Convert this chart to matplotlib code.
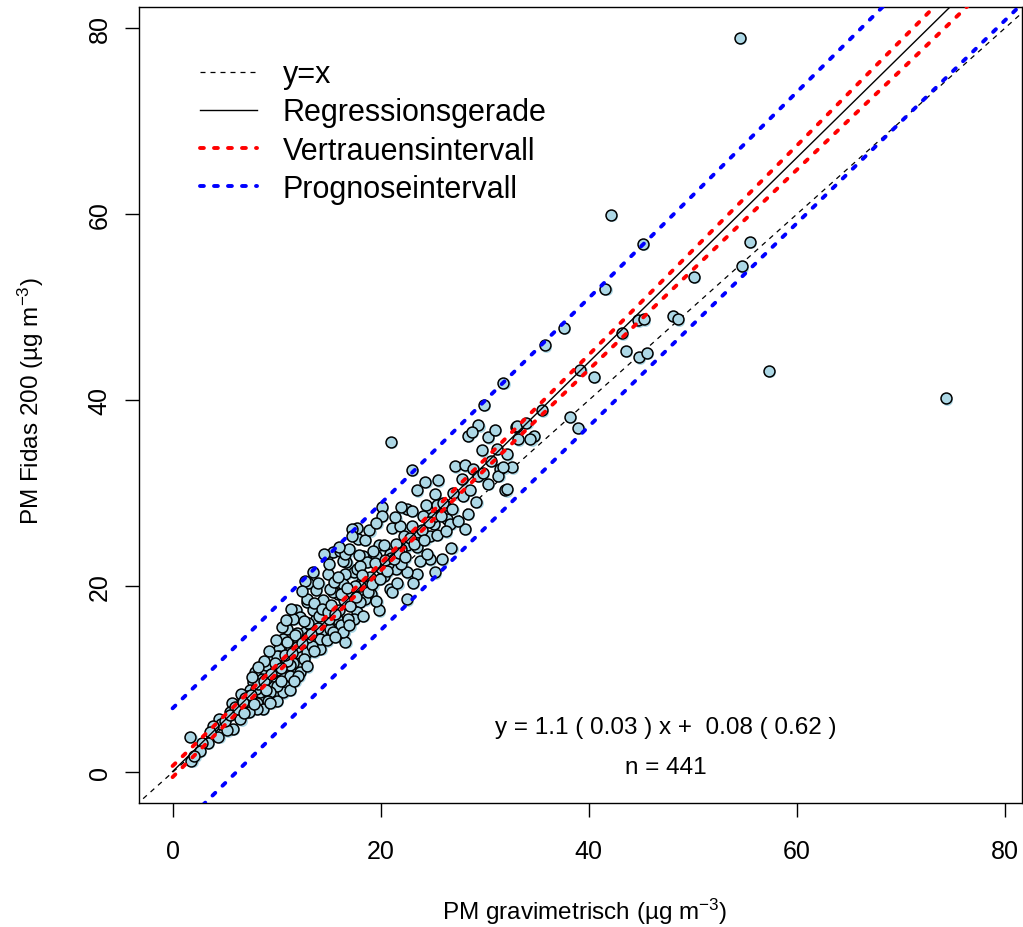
import matplotlib
matplotlib.use("Agg")
import matplotlib.pyplot as plt
import matplotlib.transforms as mtransforms
from matplotlib.lines import Line2D
import numpy as np

plt.rcParams["font.family"] = ["Liberation Sans", "DejaVu Sans"]
plt.rcParams["mathtext.fontset"] = "custom"
plt.rcParams["mathtext.rm"] = "Liberation Sans"
plt.rcParams["mathtext.it"] = "Liberation Sans:italic"
plt.rcParams["mathtext.default"] = "regular"

# --- data ---
pm_grav = [
    54.5, 42.1, 45.2, 55.5, 41.6, 37.6, 50.1, 54.7, 44.7, 45.3, 48.1, 48.6, 43.2, 43.6, 44.8,
    45.6, 39.2, 40.5, 57.3, 74.3, 38.2, 39.0, 35.8, 31.8, 35.5, 34.7, 33.0, 32.0, 31.5, 32.6,
    29.9, 29.4, 28.4, 28.75, 30.3, 31.0, 33.1, 34.0, 33.2, 29.7, 32.1, 34.4, 21.0, 23.0, 27.1,
    28.1, 28.9, 29.4, 30.3, 31.3, 31.8, 32.1, 29.2, 28.4, 28.1, 27.9, 25.5, 25.2, 24.3, 23.5,
    24.4, 25.4, 26.2, 22.5, 22.0, 23.0, 24.1, 26.4, 26.7, 25.1, 20.1, 20.1, 17.7, 17.2, 21.1,
    21.9, 22.2, 23.5, 22.5, 24.7, 23.5, 26.8, 24.7, 25.9, 25.2, 23.5, 22.5, 21.5, 22.0, 20.7,
    20.9, 19.6, 19.8, 20.3, 19.3, 18.3, 18.7, 20.3, 20.9, 21.1, 22.5, 19.8, 19.1, 18.5, 18.0,
    17.7, 17.4, 18.0, 17.4, 17.7, 18.0, 16.7, 16.6, 16.4, 15.9, 15.4, 15.1, 14.8, 15.4, 16.1,
    14.6, 14.9, 13.5, 13.0, 12.9, 11.9, 12.2, 11.6, 11.0, 10.5, 10.6, 11.0, 10.2, 10.2, 11.4,
    12.1, 12.7, 13.2, 13.8, 14.5, 14.3, 15.1, 15.8, 16.2, 15.4, 16.6, 14.2, 12.9, 12.2, 11.6,
    12.2, 11.3, 10.6, 10.0, 9.4, 8.7, 7.9, 7.75, 8.6, 9.7, 10.6, 11.3, 10.8, 10.6, 10.0,
    9.4, 9.2, 8.4, 8.1, 8.7, 7.4, 7.1, 6.6, 6.95, 6.15, 5.7, 5.5, 6.5, 5.8, 4.5,
    4.7, 3.9, 4.4, 3.6, 3.4, 2.8, 2.6, 1.8, 1.7, 2.1, 5.2, 8.1, 7.3, 12.7, 12.9,
    16.4, 17.8, 16.6, 19.4, 18.5, 16.9, 16.4, 14.2, 13.4, 12.1, 11.3, 10.0, 9.4,
    10.0, 11.0, 12.0, 13.0, 14.0, 15.0, 16.0, 17.0, 18.0, 19.0, 20.0, 6.0, 7.0, 8.0, 9.0,
    13.5, 14.5, 15.5, 16.5, 17.5, 19.5, 21.0, 22.0, 23.0, 24.0, 25.0, 26.0, 27.0, 21.5,
    13.0, 12.0, 11.0, 9.0, 10.0, 17.0, 18.5,
    5.0, 5.5, 6.3, 6.8, 7.5, 8.2, 8.8, 9.5, 9.8, 10.4, 10.8, 11.5, 11.8, 12.4, 12.6,
    13.3, 13.6, 14.1, 14.4, 14.9, 15.2, 15.6, 15.9, 16.2, 16.8, 17.1, 17.6, 17.9, 18.2, 18.8,
    19.2, 19.9, 20.4, 20.6, 21.3, 21.8, 22.3, 22.8, 23.2, 23.8, 24.2, 24.6, 25.4, 25.8, 26.3,
    26.9, 27.4, 27.8, 28.6, 29.8, 30.6, 31.2, 13.8, 14.0, 15.0, 12.4, 11.4, 10.9, 9.9, 9.3,
    8.8, 8.2, 7.6, 16.0, 17.2, 18.9, 19.6, 21.4, 12.6, 13.6, 14.8, 15.6, 17.0, 18.3, 19.6,
    21.6, 23.1, 24.5, 9.0, 7.8, 6.9, 10.4, 11.7, 12.9,
]
pm_fidas = [
    79.0, 59.9, 56.8, 57.0, 52.0, 47.8, 53.3, 54.4, 48.6, 48.7, 49.1, 48.7, 47.2, 45.3, 44.6,
    45.1, 43.3, 42.5, 43.2, 40.2, 38.2, 37.0, 45.9, 41.9, 38.9, 36.2, 37.1, 30.3, 32.6, 32.8,
    39.5, 37.3, 36.2, 36.6, 36.0, 36.8, 37.2, 37.6, 35.8, 34.6, 34.2, 35.8, 35.5, 32.5, 32.9,
    33.0, 32.6, 31.9, 31.0, 31.9, 32.8, 30.5, 29.1, 27.8, 26.2, 29.7, 31.4, 29.9, 31.2, 30.3,
    28.7, 28.7, 28.7, 28.3, 28.5, 28.1, 27.6, 27.2, 26.7, 26.7, 28.5, 27.6, 26.3, 26.2, 26.3,
    26.5, 25.4, 25.8, 24.4, 25.4, 24.2, 24.1, 22.9, 22.9, 21.5, 21.3, 21.5, 21.9, 22.4, 22.4,
    23.5, 23.3, 24.4, 24.4, 23.8, 23.3, 22.6, 21.1, 19.7, 19.4, 18.6, 17.4, 19.2, 18.6, 18.3,
    17.2, 16.5, 20.2, 21.5, 21.9, 22.2, 22.6, 21.3, 20.2, 19.2, 19.4, 19.7, 23.3, 23.7, 23.8,
    23.5, 21.3, 21.5, 20.4, 18.3, 17.4, 16.7, 16.5, 15.4, 15.6, 14.3, 13.6, 13.3, 12.5, 13.3,
    14.3, 15.1, 15.8, 16.5, 16.1, 15.1, 15.4, 16.5, 15.8, 15.1, 14.0, 13.3, 12.9, 11.8, 11.8,
    10.8, 11.5, 11.8, 11.5, 11.1, 11.1, 10.8, 9.7, 10.0, 10.4, 10.4, 10.4, 9.3, 8.6, 9.3,
    8.6, 7.7, 8.6, 7.5, 6.8, 8.9, 8.2, 8.4, 7.5, 7.2, 7.5, 6.5, 5.7, 4.7, 5.7,
    5.2, 5.0, 3.8, 4.3, 3.2, 3.2, 2.3, 1.25, 3.8, 1.8, 4.5, 6.8, 6.5, 20.6, 18.6,
    22.7, 25.1, 23.5, 20.6, 20.2, 16.5, 15.1, 14.3, 13.6, 10.4, 8.9, 7.7, 7.5,
    11.0, 12.0, 13.5, 14.5, 15.5, 16.5, 17.5, 19.0, 20.0, 21.0, 22.0, 7.0, 8.0, 9.0, 10.0,
    17.5, 18.5, 20.5, 18.5, 20.0, 22.5, 23.0, 24.0, 26.5, 26.0, 27.5, 29.0, 30.0, 24.5,
    16.0, 15.0, 14.0, 11.5, 12.5, 24.0, 25.0,
    5.5, 6.2, 6.8, 7.6, 8.3, 9.5, 9.8, 10.6, 11.8, 11.2, 12.6, 12.8, 14.8, 13.9, 16.3,
    14.9, 18.2, 16.8, 17.6, 17.2, 18.0, 17.0, 21.0, 19.2, 19.8, 17.9, 18.8, 23.4, 21.2, 19.4,
    20.2, 20.8, 22.8, 21.6, 22.9, 23.6, 23.1, 25.2, 24.6, 22.7, 25.0, 26.9, 25.5, 27.6, 25.9,
    28.3, 27.0, 31.5, 30.4, 32.2, 33.5, 34.8, 19.6, 20.4, 22.4, 19.5, 17.6, 16.4, 14.2, 13.0,
    12.0, 11.3, 10.2, 24.2, 25.4, 26.0, 26.8, 27.4, 12.2, 13.0, 14.2, 14.6, 15.8, 16.8, 18.4,
    20.3, 20.4, 23.5, 8.8, 7.3, 6.4, 9.8, 9.8, 11.4,
]

# fitted line and intervals, read at these x positions
line_x = [0, 10, 20, 30, 40, 50, 60, 70, 80, 90]
fit_y = [0.08, 11.08, 22.08, 33.08, 44.08, 55.08, 66.08, 77.08, 88.08, 99.08]
ci_lower = [-0.52, 10.63, 21.68, 32.53, 43.28, 54.03, 64.78, 75.48, 86.23, 96.9]
ci_upper = [0.68, 11.53, 22.48, 33.63, 44.88, 56.13, 67.38, 78.68, 89.93, 101.3]
pi_lower = [-6.72, 4.28, 15.28, 26.23, 37.18, 48.13, 59.03, 69.93, 80.83, 91.7]
pi_upper = [6.88, 17.88, 28.88, 39.93, 50.98, 62.03, 73.13, 84.23, 95.33, 106.4]

eq_text = "y = 1.1 ( 0.03 ) x +  0.08 ( 0.62 )"
n_text = "n = 441"

W, H = 1023, 928
fig = plt.figure(figsize=(W / 100, H / 100), dpi=100)
ax = fig.add_axes([139.3 / W, 1 - 804 / H, (1022 - 139.3) / W, (804 - 8.3) / H])
ax.set_xlim(-3.2, 81.65)
ax.set_ylim(-3.3, 82.25)

dot = dict(lw=2.8, dashes=(1.0, 2.6), dash_capstyle="round")

ax.plot([-10, 100], [-10, 100], color="black", lw=0.9, dashes=(4, 4), zorder=2)

# points: light blue shadow, then outlined discs
shadow = mtransforms.offset_copy(ax.transData, fig=fig, x=1.3, y=-1.3, units="dots")
ax.scatter(pm_grav, pm_fidas, s=62, c="#add8e6", linewidths=0, transform=shadow, zorder=3)
ax.scatter(pm_grav, pm_fidas, s=62, c="#add8e6", edgecolors="black", linewidths=1.1, zorder=4)

ax.plot(line_x, fit_y, color="black", lw=1.0, zorder=5)
ax.plot(line_x, ci_lower, color="red", zorder=5, **dot)
ax.plot(line_x, ci_upper, color="red", zorder=5, **dot)
ax.plot(line_x, pi_lower, color="blue", zorder=5, **dot)
ax.plot(line_x, pi_upper, color="blue", zorder=5, **dot)

handles = [
    Line2D([], [], color="black", lw=0.9, dashes=(4, 4)),
    Line2D([], [], color="black", lw=1.0),
    Line2D([], [], color="red", **dot),
    Line2D([], [], color="blue", **dot),
]
labels = ["y=x", "Regressionsgerade", "Vertrauensintervall", "Prognoseintervall"]
ax.legend(handles, labels, loc="upper left", bbox_to_anchor=(188 / W, 1 - 48 / H),
          bbox_transform=fig.transFigure, frameon=False, fontsize=22,
          handlelength=1.85, handletextpad=0.85, labelspacing=0.27, borderaxespad=0)

ax.text(47.4, 4.9, eq_text, ha="center", va="center", fontsize=17.5)
ax.text(47.4, 0.6, n_text, ha="center", va="center", fontsize=17.5)

ax.set_xticks([0, 20, 40, 60, 80])
ax.set_yticks([0, 20, 40, 60, 80])
ax.tick_params(length=10, width=1.0, labelsize=18)
ax.tick_params(axis="x", pad=16)
ax.tick_params(axis="y", pad=10)
for lab in ax.get_yticklabels():
    lab.set_rotation(90)
    lab.set_va("center")
for sp in ax.spines.values():
    sp.set_linewidth(1.0)

ax.set_xlabel("PM gravimetrisch (µg m$^{-3}$)", fontsize=17.5)
ax.set_ylabel("PM Fidas 200 (µg m$^{-3}$)", fontsize=17.5)
ax.xaxis.set_label_coords(0.505, -(912 - 804) / (804 - 8.3), transform=ax.transAxes)
ax.yaxis.set_label_coords(-(139.3 - 31) / (1022 - 139.3), 0.506, transform=ax.transAxes)
ax.xaxis.label.set_va("center")
ax.yaxis.label.set_va("center")

fig.savefig("out.png", dpi=100)
